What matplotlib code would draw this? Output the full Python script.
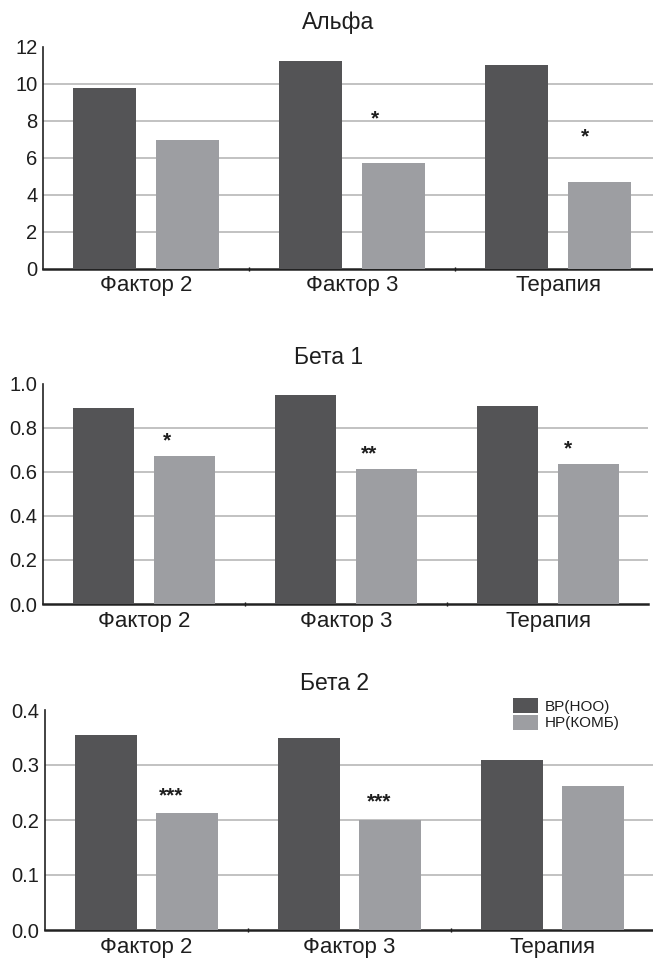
import matplotlib
matplotlib.use("Agg")
import matplotlib.pyplot as plt
import numpy as np
from matplotlib.patches import Patch
from matplotlib.ticker import FixedLocator

plt.rcParams["font.family"] = ["Liberation Sans", "DejaVu Sans"]

categories = ["Фактор 2", "Фактор 3", "Терапия"]
series_names = ["ВР(НОО)", "НР(КОМБ)"]

# значения по панелям: ВР(НОО) и НР(КОМБ)
alpha_vr = [9.8, 11.25, 11.0]
alpha_nr = [6.95, 5.7, 4.7]
alpha_stars = ["", "*", "*"]

beta1_vr = [0.89, 0.95, 0.90]
beta1_nr = [0.67, 0.61, 0.635]
beta1_stars = ["*", "**", "*"]

beta2_vr = [0.354, 0.350, 0.310]
beta2_nr = [0.212, 0.200, 0.261]
beta2_stars = ["***", "***", ""]

DARK = "#545456"
LIGHT = "#9d9ea2"
GRID = "#bdbdbd"
TEXT = "#1e1e1e"

W, H = 653, 960
fig = plt.figure(figsize=(W / 100, H / 100), dpi=100)


def panel(title, vr, nr, stars, yticks, fmt, star_gap, px, star_dx):
    # px: левый край, шаг групп, низ и верх оси, правый край (в пикселях)
    left, step, bottom, top, right, title_x, title_y = px
    ax = fig.add_axes([left / W, 1 - bottom / H, (right - left) / W, (bottom - top) / H])
    x = np.arange(len(categories))
    ax.bar(x - 0.2, vr, width=0.305, color=DARK, zorder=3)
    ax.bar(x + 0.2, nr, width=0.305, color=LIGHT, zorder=3)

    ax.set_xlim(-0.5, -0.5 + (right - left) / step)
    ax.set_ylim(yticks[0], yticks[-1])
    ax.set_yticks(yticks)
    ax.set_yticklabels([fmt.format(t) for t in yticks], fontsize=14.5, color=TEXT)
    for t in yticks[1:-1]:
        ax.axhline(t, color=GRID, lw=1.3, zorder=1)

    ax.set_xticks(x)
    ax.set_xticklabels(categories, fontsize=16, color=TEXT)
    ax.xaxis.set_minor_locator(FixedLocator([0.5, 1.5]))
    ax.tick_params(axis="x", which="major", length=0, pad=5)
    ax.tick_params(axis="x", which="minor", length=3, width=1, direction="inout")
    ax.tick_params(axis="y", length=0, pad=4)

    for s in ["top", "right"]:
        ax.spines[s].set_visible(False)
    ax.spines["bottom"].set_linewidth(1.8)
    ax.spines["left"].set_linewidth(1.2)
    ax.spines["bottom"].set_color("#222222")
    ax.spines["left"].set_color("#222222")

    for i, s in enumerate(stars):
        if s:
            ax.annotate(s, (x[i] + 0.2 + star_dx[i], nr[i] + star_gap),
                        xytext=(0, -5), textcoords="offset points",
                        ha="center", va="center", fontsize=15,
                        fontweight="bold", color=TEXT)

    fig.text(title_x / W, 1 - title_y / H, title, ha="center", va="center",
             fontsize=16.5, color=TEXT)
    return ax


panel("Альфа", alpha_vr, alpha_nr, alpha_stars, [0, 2, 4, 6, 8, 10, 12], "{:g}",
      2.8, (43, 206, 268.5, 47, 653, 338, 22), [0, -0.09, -0.07])
panel("Бета 1", beta1_vr, beta1_nr, beta1_stars, [0.0, 0.2, 0.4, 0.6, 0.8, 1.0], "{:.1f}",
      0.1, (43, 202, 604, 383.5, 648, 329, 358), [-0.085, -0.085, -0.1])
ax3 = panel("Бета 2", beta2_vr, beta2_nr, beta2_stars, [0.0, 0.1, 0.2, 0.3, 0.4], "{:.1f}",
            0.045, (45, 203, 930, 710, 653, 334, 683), [-0.08, -0.055, 0])

handles = [Patch(facecolor=DARK), Patch(facecolor=LIGHT)]
fig.legend(handles, series_names, loc="upper left", bbox_to_anchor=(513 / W, 1 - 698 / H),
           frameon=False, fontsize=11, handlelength=1.65, handleheight=1.15,
           labelspacing=0.05, handletextpad=0.4, borderpad=0, borderaxespad=0,
           labelcolor=TEXT)

fig.savefig("out.png", dpi=100)
